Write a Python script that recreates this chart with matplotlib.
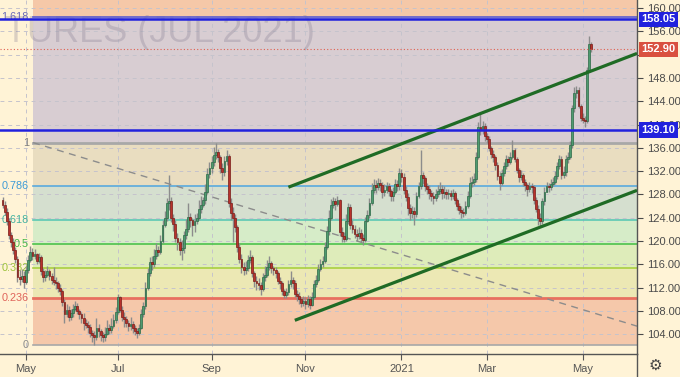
import numpy as np
import pandas as pd
import matplotlib
matplotlib.use('Agg')
import matplotlib.pyplot as plt
import matplotlib.transforms as mtransforms
from matplotlib.lines import Line2D

plt.rcParams['font.family'] = ['Liberation Sans', 'DejaVu Sans']

# daily candles, open = previous close
first_open = 127.0
closes = [
    126.2, 125.0, 123.5, 121.0, 119.8, 118.5, 117.0, 113.8, 113.5, 114.0, 113.0,  # apr 2020
    115.0, 116.8, 118.2, 117.4, 117.8, 116.6, 117.2, 114.8, 113.8, 114.2, 114.8,
    114.0, 113.4, 113.0, 112.8, 112.0, 111.5, 109.6, 107.4, 108.2, 107.0,  # may
    107.6, 108.4, 108.8, 108.0, 107.4, 106.8, 106.0, 105.6, 105.2, 104.2, 103.8,
    103.6, 105.0, 104.6, 103.8, 103.5, 104.0, 105.0, 104.8, 105.4, 106.5, 107.8,  # jun
    110.4, 108.2, 107.0, 106.6, 106.0, 105.5, 105.8, 105.0, 104.6, 104.2, 105.0, 107.5,
    108.8, 112.0, 114.5, 116.4, 116.0, 117.5, 118.5, 118.2, 120.0, 122.8, 124.0,  # jul
    126.5, 126.8, 124.0, 123.0, 120.5, 119.8, 118.5, 118.8, 121.0, 122.0, 124.2,
    123.6, 122.8, 123.4, 124.0, 125.5, 126.2, 127.0, 128.5, 131.5, 132.5,  # aug
    133.5, 134.8, 135.2, 134.5, 132.5, 131.8, 133.8, 134.6, 126.5, 124.8, 124.0,
    122.4, 119.0, 117.0, 115.5, 115.0, 115.3, 116.8, 117.2, 114.5, 113.2, 112.8,  # sep
    112.4, 111.8, 113.8, 114.2, 115.6, 116.2, 115.4, 115.0, 114.5, 113.2, 112.8,
    111.5, 110.8, 111.2, 112.6, 113.4, 112.8, 111.0, 110.6, 110.0, 109.4, 109.8,  # oct
    109.2, 110.0, 109.0, 110.4, 112.6, 113.4, 115.2, 116.0, 116.6, 119.0, 121.8,
    124.0, 126.2, 126.8, 126.4, 127.0, 121.5, 120.8, 120.4, 123.5, 125.8,  # nov
    122.8, 122.0, 121.2, 120.8, 121.4, 120.6, 120.2, 123.5, 124.5, 126.6, 128.8, 129.6,
    129.2, 130.0, 129.6, 128.4, 128.8, 129.4, 128.6, 127.8, 128.4, 129.8, 129.4,  # dec
    131.6, 131.0, 128.8, 127.6, 125.6, 124.8, 125.2, 124.6, 127.8, 129.4, 131.4,
    130.8, 129.4, 129.0, 128.2, 127.8, 127.4, 128.0, 128.6, 129.0, 128.2,  # jan 2021
    128.4, 128.0, 128.2, 127.8, 128.3, 127.0, 126.0, 125.4, 125.0, 124.8,
    126.0, 127.8, 130.0, 130.2, 130.6, 134.5, 139.5, 139.0, 139.8, 138.0,  # feb
    137.6, 136.0, 135.0, 134.4, 133.0, 131.2, 130.0, 131.6, 132.8, 134.0, 133.6, 134.4,
    135.6, 134.0, 132.2, 131.0, 131.4, 130.2, 129.6, 129.0, 129.4, 129.2, 127.0,  # mar
    125.5, 124.0, 123.4, 126.8, 128.5, 129.4, 129.2, 129.8, 130.2, 131.2, 132.8,
    134.0, 131.4, 131.8, 134.0, 134.4, 136.5, 142.8, 145.4, 146.0, 143.2, 141.2,  # apr
    140.8, 140.6, 149.3, 153.8, 152.9,  # may
]
highs = [
    127.6, 126.8, 125.6, 123.9, 121.6, 120.6, 119.0, 117.5, 115.0, 115.2, 114.8,
    115.8, 117.6, 119.2, 118.8, 118.6, 118.0, 117.9, 117.6, 115.4, 115.0, 115.8,
    115.2, 114.6, 115.6, 113.8, 113.2, 112.6, 111.8, 110.0, 109.2, 108.8,
    108.4, 109.2, 109.8, 109.4, 108.4, 107.8, 107.6, 106.6, 106.2, 105.8, 104.8,
    104.6, 106.8, 105.8, 104.9, 104.4, 105.2, 106.4, 105.8, 106.8, 107.4, 108.6,
    111.0, 110.6, 108.8, 107.8, 107.2, 106.4, 107.0, 106.2, 105.6, 105.0, 105.8, 108.4,
    109.6, 113.0, 115.4, 117.2, 117.4, 118.6, 119.6, 119.2, 121.0, 123.6, 125.2,
    127.4, 131.4, 127.6, 124.6, 123.6, 121.4, 120.6, 120.2, 121.8, 123.8, 126.6,
    124.8, 124.0, 124.6, 124.8, 127.0, 127.8, 127.6, 129.8, 132.6, 133.6,
    134.6, 136.2, 136.9, 135.8, 134.8, 133.4, 134.6, 135.6, 134.9, 127.4, 125.8,
    124.6, 122.8, 119.6, 117.8, 116.4, 116.6, 117.6, 118.4, 117.6, 114.8, 114.0,
    113.6, 113.0, 114.6, 115.8, 116.8, 117.4, 116.6, 115.8, 115.6, 114.8, 113.8,
    113.2, 111.8, 112.0, 113.4, 114.8, 113.8, 113.4, 111.6, 111.2, 110.4, 110.6,
    110.4, 110.8, 110.6, 111.2, 113.4, 114.2, 116.0, 117.0, 117.4, 119.8, 122.6,
    125.4, 127.2, 127.6, 127.4, 127.8, 127.2, 122.4, 121.6, 124.6, 126.6,
    126.4, 123.6, 122.8, 122.0, 122.4, 122.0, 121.2, 124.2, 125.4, 127.4, 130.0, 130.6,
    130.4, 130.8, 130.6, 130.2, 129.8, 130.2, 130.0, 129.0, 129.2, 130.6, 130.4,
    132.6, 132.4, 131.6, 129.4, 128.2, 126.4, 126.0, 125.8, 128.4, 130.2, 135.6,
    131.8, 131.2, 130.0, 129.6, 128.8, 128.4, 129.0, 129.6, 130.2, 129.6,
    129.4, 129.0, 129.0, 128.8, 129.0, 128.6, 127.4, 126.6, 126.0, 125.6,
    126.8, 128.6, 131.0, 131.2, 131.6, 135.2, 140.4, 142.0, 140.6, 140.2,
    138.6, 138.0, 136.4, 135.6, 134.8, 133.6, 131.8, 132.4, 133.6, 134.8, 134.6, 135.2,
    137.4, 136.0, 134.4, 132.6, 132.2, 131.6, 130.6, 130.0, 130.2, 130.0, 129.6,
    127.6, 126.2, 124.8, 127.4, 129.2, 130.2, 130.0, 130.6, 131.0, 132.0, 133.6,
    134.8, 134.6, 132.8, 134.8, 135.2, 137.2, 143.4, 146.4, 146.6, 146.4, 143.6,
    142.0, 141.4, 149.8, 155.2, 154.2,
]
lows = [
    125.6, 124.4, 122.8, 120.4, 118.9, 117.8, 116.2, 113.0, 112.4, 112.9, 111.9,
    112.6, 114.6, 116.4, 116.8, 116.9, 116.0, 116.2, 114.2, 113.0, 113.2, 113.8,
    113.4, 112.6, 112.4, 111.8, 111.2, 110.8, 108.9, 106.0, 106.9, 106.2,
    106.4, 107.0, 108.0, 107.4, 106.6, 106.0, 104.8, 105.0, 104.2, 103.6, 102.6,
    102.1, 103.0, 103.6, 102.8, 102.6, 102.9, 103.8, 104.0, 104.3, 105.0, 106.0,
    107.4, 107.8, 106.2, 105.2, 105.2, 104.6, 104.8, 104.2, 103.8, 103.4, 103.9, 104.9,
    107.0, 108.4, 111.6, 114.0, 115.0, 115.6, 117.0, 117.4, 117.8, 119.6, 122.4,
    123.4, 125.4, 123.2, 121.8, 119.8, 118.4, 117.6, 116.8, 118.0, 120.4, 121.6,
    122.4, 120.8, 121.6, 123.0, 123.6, 124.8, 125.8, 126.4, 128.0, 130.8,
    131.6, 132.8, 134.0, 133.6, 131.6, 130.4, 131.2, 133.0, 125.8, 123.6, 119.8,
    121.6, 118.2, 116.2, 114.6, 114.2, 114.4, 114.9, 116.2, 113.8, 112.2, 111.6,
    111.6, 110.8, 111.4, 113.2, 113.8, 115.0, 114.6, 114.2, 113.6, 112.6, 111.8,
    110.8, 110.2, 110.2, 110.8, 112.2, 111.8, 110.4, 109.8, 109.2, 108.6, 108.8,
    108.4, 108.6, 108.3, 108.8, 110.0, 112.2, 113.0, 114.8, 115.6, 116.2, 118.6,
    121.0, 123.6, 125.6, 125.4, 126.0, 120.8, 119.8, 119.8, 120.0, 123.0,
    122.0, 121.4, 120.6, 120.0, 120.4, 119.8, 119.4, 119.8, 123.2, 124.0, 126.2, 128.2,
    128.2, 128.8, 128.6, 127.4, 127.8, 128.2, 127.8, 126.8, 126.8, 128.0, 128.6,
    128.8, 130.2, 128.0, 126.8, 124.4, 123.6, 124.0, 122.8, 124.2, 127.4, 129.0,
    129.8, 128.6, 128.0, 127.2, 126.8, 126.4, 126.8, 127.6, 128.0, 127.2,
    127.4, 127.2, 127.2, 127.0, 127.2, 126.4, 125.4, 124.6, 124.0, 124.2,
    124.4, 125.6, 127.4, 129.2, 129.6, 130.2, 134.0, 138.2, 138.4, 137.2,
    136.8, 135.4, 134.2, 133.6, 132.2, 130.4, 128.8, 129.6, 131.2, 132.4, 132.8, 133.2,
    134.0, 133.6, 131.6, 130.2, 130.4, 129.4, 128.6, 127.8, 128.4, 128.2, 126.4,
    125.0, 122.8, 122.4, 123.0, 126.2, 128.4, 128.4, 128.8, 129.4, 129.8, 130.6,
    132.4, 130.6, 130.8, 131.2, 133.4, 134.0, 136.0, 142.2, 144.6, 142.8, 140.6,
    140.2, 139.6, 140.2, 149.0, 152.4,
]

tick_dates = ['2020-05-01', '2020-07-01', '2020-09-01', '2020-11-02',
              '2021-01-04', '2021-03-01', '2021-05-03']
tick_labels = ['May', 'Jul', 'Sep', 'Nov', '2021', 'Mar', 'May']

# fibonacci drawing
fib_low, fib_high = 102.1, 136.9
fib_start = '2020-05-06'
fib_ratios = [0, 0.236, 0.382, 0.5, 0.618, 0.786, 1, 1.618]
fib_names = ['0', '0.236', '0.382', '0.5', '0.618', '0.786', '1', '1.618']
line_cols = ['#a8a8a8', '#e8705f', '#a9d040', '#4cc24c', '#5cc8b4', '#5aaade', '#a8a8a8', '#5c5cd0']
text_cols = ['#8a8a8a', '#e0645a', '#9cc23a', '#45b845', '#45b3a0', '#3d9bd6', '#7d7d7d', '#6a6ab8']
band_cols = ['#f5c8aa', '#ece8b4', '#deecba', '#d6ecc8', '#d5dfcf', '#e9ddc0', '#d8cdd2', '#f5c8a8']

h_levels = [158.05, 139.10]
last_price = 152.90
trend_end = 105.4
upper_channel = (('2020-10-21', 129.24), (297.4, 152.2))
lower_channel = (('2020-10-26', 106.4), (297.4, 128.7))

dates = pd.bdate_range('2020-04-16', periods=len(closes))
x = np.arange(len(closes))
c = np.array(closes)
o = np.r_[first_open, c[:-1]]
h = np.array(highs)
l = np.array(lows)

bg = '#fff3d6'
fig = plt.figure(figsize=(6.8, 3.77), dpi=100, facecolor=bg)
ax = fig.add_axes([0, 23 / 377, 637 / 680, 354 / 377], facecolor=bg)
x0, x1 = -1.2, 297.4
y0, y1 = 100.62, 161.37
ax.set_xlim(x0, x1)
ax.set_ylim(y0, y1)

fx = dates.get_loc(pd.Timestamp(fib_start)) + 0.3
lv = [fib_low + r * (fib_high - fib_low) for r in fib_ratios]
edges = lv + [y1 + 5]
for i in range(len(lv)):
    ax.fill_between([fx, x1 + 5], edges[i], edges[i + 1], color=band_cols[i], lw=0, zorder=0.1)
for i, v in enumerate(lv):
    lw = 2 if fib_names[i] in ('1', '0.236') else 1.2
    ax.plot([fx, x1 + 5], [v, v], color=line_cols[i], lw=lw, zorder=1.5)
    ax.text(fx - 1.9, v, fib_names[i], color=text_cols[i], fontsize=7.8,
            ha='right', va='center', zorder=2)

ax.grid(True, color='#c5c3cc', ls=(0, (4, 4)), lw=0.7)
ax.set_axisbelow(True)

# watermark (symbol name runs off the left edge in the original)
ax.text(1.1, 154.2, 'TURES (JUL 2021)', fontsize=26, color='#857d92', alpha=0.3,
        ha='left', va='baseline', zorder=0.8)

ax.plot([fx, x1], [fib_high, trend_end], color='#8c8c8c', lw=1, ls=(0, (5, 4)), zorder=1.6)

# candles
up = c >= o
ax.vlines(x, l, h, color='#8c8c8c', lw=1.0, zorder=3)
body_lo = np.minimum(o, c)
body_h = np.maximum(np.abs(c - o), 0.2)
ax.bar(x[up], body_h[up], bottom=body_lo[up], width=0.85, color='#4e9a6f',
       edgecolor='#2d6a48', lw=0.5, zorder=4)
ax.bar(x[~up], body_h[~up], bottom=body_lo[~up], width=0.85, color='#b8322c',
       edgecolor='#7a1c18', lw=0.5, zorder=4)

for (d, p0), (xe, pe) in (upper_channel, lower_channel):
    xs = dates.get_loc(pd.Timestamp(d))
    ax.plot([xs, xe], [p0, pe], color='#1f6b25', lw=2.3, zorder=5, solid_capstyle='butt')

for v in h_levels:
    ax.axhline(v, color='#2121dd', lw=1.8, zorder=5)
ax.axhline(last_price, color='#e06050', lw=0.8, ls=(0, (1, 2)), zorder=5)

# axes styling
ax.yaxis.tick_right()
yt = np.arange(104, 161, 4)
ax.set_yticks(yt)
ax.set_yticklabels(['' if v == 152 else '%.2f' % v for v in yt])
ax.tick_params(axis='y', labelsize=8, colors='#4a4a4a', length=4, pad=3)
ax.set_xticks([dates.get_loc(pd.Timestamp(d)) for d in tick_dates])
ax.set_xticklabels(tick_labels)
ax.tick_params(axis='x', labelsize=8, colors='#555555', length=4, pad=3)
for s in ('top', 'left'):
    ax.spines[s].set_visible(False)
for s in ('bottom', 'right'):
    ax.spines[s].set_color('#555555')
    ax.spines[s].set_linewidth(1)
fig.add_artist(Line2D([637 / 680] * 2, [0, 23 / 377], transform=fig.transFigure,
                      color='#555555', lw=1))

tr = mtransforms.blended_transform_factory(ax.transAxes, ax.transData)
tags = [(158.05, '#2121dd'), (139.10, '#2121dd'), (last_price, '#d9503f')]
for v, col in tags:
    ax.text(1.007, v, '%.2f' % v, transform=tr, color='white', fontsize=8, fontweight='bold',
            ha='left', va='center', clip_on=False, zorder=20,
            bbox=dict(boxstyle='square,pad=0.25', fc=col, ec='none'))

fig.text(655 / 680, 1 - 365 / 377, '\u2699', fontsize=11, color='#444444',
         ha='center', va='center', family='DejaVu Sans')

fig.savefig('out.png', dpi=100, facecolor=bg)
